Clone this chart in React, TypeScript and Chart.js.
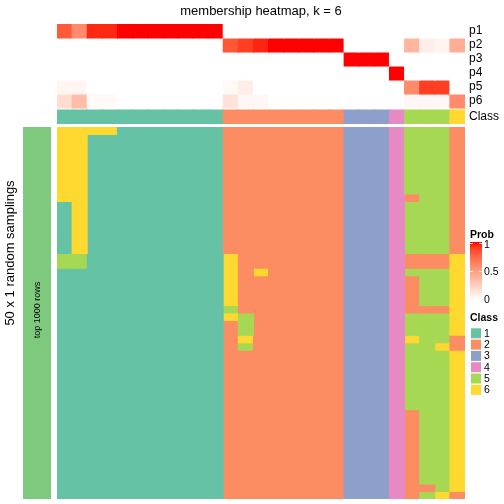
import React, { useEffect, useRef } from "react";
import { Chart, registerables } from "chart.js";

Chart.register(...registerables);

// ---------------- data ----------------
const TITLE = "membership heatmap, k = 6";
const ROW_TITLE = "50 x 1 random samplings";
const ROW_GROUP = "top 1000 rows";

const COLUMNS = [
  "c01", "c02", "c03", "c04", "c05", "c06", "c07", "c08", "c09", "c10", "c11",
  "c12", "c13", "c14", "c15", "c16", "c17", "c18", "c19",
  "c20", "c21", "c22", "c23", "c24", "c25", "c26", "c27",
];

const CLASS_LABELS = ["1", "2", "3", "4", "5", "6"];
const CLASS_COLORS = ["#66C2A5", "#FC8D62", "#8DA0CB", "#E78AC3", "#A6D854", "#FFD92F"];
const ROW_GROUP_COLOR = "#7FC97F";

const PROB_ROWS = ["p1", "p2", "p3", "p4", "p5", "p6"];
const P1 = [0.8, 0.59, 0.95, 0.95, 1, 1, 1, 1, 1, 1, 1, 0, 0, 0, 0, 0, 0, 0, 0, 0, 0, 0, 0, 0, 0, 0, 0];
const P2 = [0, 0, 0, 0, 0, 0, 0, 0, 0, 0, 0, 0.82, 0.9, 0.96, 1, 1, 1, 1, 1, 0, 0, 0, 0, 0.38, 0.09, 0.06, 0.42];
const P3 = [0, 0, 0, 0, 0, 0, 0, 0, 0, 0, 0, 0, 0, 0, 0, 0, 0, 0, 0, 1, 1, 1, 0, 0, 0, 0, 0];
const P4 = [0, 0, 0, 0, 0, 0, 0, 0, 0, 0, 0, 0, 0, 0, 0, 0, 0, 0, 0, 0, 0, 0, 1, 0, 0, 0, 0];
const P5 = [0.05, 0.05, 0, 0, 0, 0, 0, 0, 0, 0, 0, 0.03, 0.09, 0, 0, 0, 0, 0, 0, 0, 0, 0, 0, 0.59, 0.9, 0.9, 0];
const P6 = [0.18, 0.35, 0.03, 0.03, 0, 0, 0, 0, 0, 0, 0, 0.15, 0.04, 0.04, 0, 0, 0, 0, 0, 0, 0, 0, 0, 0.04, 0.04, 0.04, 0.59];
const PROBS = [P1, P2, P3, P4, P5, P6];

const COLUMN_CLASS = [1, 1, 1, 1, 1, 1, 1, 1, 1, 1, 1, 2, 2, 2, 2, 2, 2, 2, 2, 3, 3, 3, 4, 5, 5, 5, 6];

const PROB_TICKS = [0, 0.5, 1];

// class of each column in each of the 50 random samplings (rows top to bottom)
const SAMPLING_CLASS = [
  [6, 6, 6, 6, 1, 1, 1, 1, 1, 1, 1, 2, 2, 2, 2, 2, 2, 2, 2, 3, 3, 3, 4, 5, 5, 5, 2],
  [6, 6, 1, 1, 1, 1, 1, 1, 1, 1, 1, 2, 2, 2, 2, 2, 2, 2, 2, 3, 3, 3, 4, 5, 5, 5, 2],
  [6, 6, 1, 1, 1, 1, 1, 1, 1, 1, 1, 2, 2, 2, 2, 2, 2, 2, 2, 3, 3, 3, 4, 5, 5, 5, 2],
  [6, 6, 1, 1, 1, 1, 1, 1, 1, 1, 1, 2, 2, 2, 2, 2, 2, 2, 2, 3, 3, 3, 4, 5, 5, 5, 2],
  [6, 6, 1, 1, 1, 1, 1, 1, 1, 1, 1, 2, 2, 2, 2, 2, 2, 2, 2, 3, 3, 3, 4, 5, 5, 5, 2],
  [6, 6, 1, 1, 1, 1, 1, 1, 1, 1, 1, 2, 2, 2, 2, 2, 2, 2, 2, 3, 3, 3, 4, 5, 5, 5, 2],
  [6, 6, 1, 1, 1, 1, 1, 1, 1, 1, 1, 2, 2, 2, 2, 2, 2, 2, 2, 3, 3, 3, 4, 5, 5, 5, 2],
  [6, 6, 1, 1, 1, 1, 1, 1, 1, 1, 1, 2, 2, 2, 2, 2, 2, 2, 2, 3, 3, 3, 4, 5, 5, 5, 2],
  [6, 6, 1, 1, 1, 1, 1, 1, 1, 1, 1, 2, 2, 2, 2, 2, 2, 2, 2, 3, 3, 3, 4, 5, 5, 5, 2],
  [6, 6, 1, 1, 1, 1, 1, 1, 1, 1, 1, 2, 2, 2, 2, 2, 2, 2, 2, 3, 3, 3, 4, 2, 5, 5, 2],
  [1, 6, 1, 1, 1, 1, 1, 1, 1, 1, 1, 2, 2, 2, 2, 2, 2, 2, 2, 3, 3, 3, 4, 5, 5, 5, 2],
  [1, 6, 1, 1, 1, 1, 1, 1, 1, 1, 1, 2, 2, 2, 2, 2, 2, 2, 2, 3, 3, 3, 4, 5, 5, 5, 2],
  [1, 6, 1, 1, 1, 1, 1, 1, 1, 1, 1, 2, 2, 2, 2, 2, 2, 2, 2, 3, 3, 3, 4, 5, 5, 5, 2],
  [1, 6, 1, 1, 1, 1, 1, 1, 1, 1, 1, 2, 2, 2, 2, 2, 2, 2, 2, 3, 3, 3, 4, 5, 5, 5, 2],
  [1, 6, 1, 1, 1, 1, 1, 1, 1, 1, 1, 2, 2, 2, 2, 2, 2, 2, 2, 3, 3, 3, 4, 5, 5, 5, 2],
  [1, 6, 1, 1, 1, 1, 1, 1, 1, 1, 1, 2, 2, 2, 2, 2, 2, 2, 2, 3, 3, 3, 4, 5, 5, 5, 2],
  [1, 6, 1, 1, 1, 1, 1, 1, 1, 1, 1, 2, 2, 2, 2, 2, 2, 2, 2, 3, 3, 3, 4, 5, 5, 5, 2],
  [5, 5, 1, 1, 1, 1, 1, 1, 1, 1, 1, 6, 2, 2, 2, 2, 2, 2, 2, 3, 3, 3, 4, 2, 2, 2, 6],
  [5, 5, 1, 1, 1, 1, 1, 1, 1, 1, 1, 6, 2, 2, 2, 2, 2, 2, 2, 3, 3, 3, 4, 2, 2, 2, 6],
  [1, 1, 1, 1, 1, 1, 1, 1, 1, 1, 1, 6, 2, 6, 2, 2, 2, 2, 2, 3, 3, 3, 4, 5, 5, 5, 6],
  [1, 1, 1, 1, 1, 1, 1, 1, 1, 1, 1, 6, 2, 2, 2, 2, 2, 2, 2, 3, 3, 3, 4, 2, 5, 5, 6],
  [1, 1, 1, 1, 1, 1, 1, 1, 1, 1, 1, 6, 2, 2, 2, 2, 2, 2, 2, 3, 3, 3, 4, 2, 5, 5, 6],
  [1, 1, 1, 1, 1, 1, 1, 1, 1, 1, 1, 6, 2, 2, 2, 2, 2, 2, 2, 3, 3, 3, 4, 2, 5, 5, 6],
  [1, 1, 1, 1, 1, 1, 1, 1, 1, 1, 1, 6, 2, 2, 2, 2, 2, 2, 2, 3, 3, 3, 4, 2, 5, 5, 6],
  [1, 1, 1, 1, 1, 1, 1, 1, 1, 1, 1, 5, 2, 2, 2, 2, 2, 2, 2, 3, 3, 3, 4, 2, 2, 2, 6],
  [1, 1, 1, 1, 1, 1, 1, 1, 1, 1, 1, 6, 5, 2, 2, 2, 2, 2, 2, 3, 3, 3, 4, 5, 5, 5, 6],
  [1, 1, 1, 1, 1, 1, 1, 1, 1, 1, 1, 2, 5, 2, 2, 2, 2, 2, 2, 3, 3, 3, 4, 5, 5, 5, 6],
  [1, 1, 1, 1, 1, 1, 1, 1, 1, 1, 1, 2, 5, 2, 2, 2, 2, 2, 2, 3, 3, 3, 4, 5, 5, 5, 6],
  [1, 1, 1, 1, 1, 1, 1, 1, 1, 1, 1, 2, 6, 2, 2, 2, 2, 2, 2, 3, 3, 3, 4, 6, 5, 5, 2],
  [1, 1, 1, 1, 1, 1, 1, 1, 1, 1, 1, 2, 5, 2, 2, 2, 2, 2, 2, 3, 3, 3, 4, 5, 5, 6, 2],
  [1, 1, 1, 1, 1, 1, 1, 1, 1, 1, 1, 2, 2, 2, 2, 2, 2, 2, 2, 3, 3, 3, 4, 5, 5, 5, 6],
  [1, 1, 1, 1, 1, 1, 1, 1, 1, 1, 1, 2, 2, 2, 2, 2, 2, 2, 2, 3, 3, 3, 4, 5, 5, 5, 6],
  [1, 1, 1, 1, 1, 1, 1, 1, 1, 1, 1, 2, 2, 2, 2, 2, 2, 2, 2, 3, 3, 3, 4, 5, 5, 5, 6],
  [1, 1, 1, 1, 1, 1, 1, 1, 1, 1, 1, 2, 2, 2, 2, 2, 2, 2, 2, 3, 3, 3, 4, 5, 5, 5, 6],
  [1, 1, 1, 1, 1, 1, 1, 1, 1, 1, 1, 2, 2, 2, 2, 2, 2, 2, 2, 3, 3, 3, 4, 5, 5, 5, 6],
  [1, 1, 1, 1, 1, 1, 1, 1, 1, 1, 1, 2, 2, 2, 2, 2, 2, 2, 2, 3, 3, 3, 4, 5, 5, 5, 6],
  [1, 1, 1, 1, 1, 1, 1, 1, 1, 1, 1, 2, 2, 2, 2, 2, 2, 2, 2, 3, 3, 3, 4, 5, 5, 5, 6],
  [1, 1, 1, 1, 1, 1, 1, 1, 1, 1, 1, 2, 2, 2, 2, 2, 2, 2, 2, 3, 3, 3, 4, 5, 5, 5, 6],
  [1, 1, 1, 1, 1, 1, 1, 1, 1, 1, 1, 2, 2, 2, 2, 2, 2, 2, 2, 3, 3, 3, 4, 2, 5, 5, 6],
  [1, 1, 1, 1, 1, 1, 1, 1, 1, 1, 1, 2, 2, 2, 2, 2, 2, 2, 2, 3, 3, 3, 4, 2, 5, 5, 6],
  [1, 1, 1, 1, 1, 1, 1, 1, 1, 1, 1, 2, 2, 2, 2, 2, 2, 2, 2, 3, 3, 3, 4, 2, 5, 5, 6],
  [1, 1, 1, 1, 1, 1, 1, 1, 1, 1, 1, 2, 2, 2, 2, 2, 2, 2, 2, 3, 3, 3, 4, 2, 5, 5, 6],
  [1, 1, 1, 1, 1, 1, 1, 1, 1, 1, 1, 2, 2, 2, 2, 2, 2, 2, 2, 3, 3, 3, 4, 2, 5, 5, 6],
  [1, 1, 1, 1, 1, 1, 1, 1, 1, 1, 1, 2, 2, 2, 2, 2, 2, 2, 2, 3, 3, 3, 4, 2, 5, 5, 6],
  [1, 1, 1, 1, 1, 1, 1, 1, 1, 1, 1, 2, 2, 2, 2, 2, 2, 2, 2, 3, 3, 3, 4, 2, 5, 5, 6],
  [1, 1, 1, 1, 1, 1, 1, 1, 1, 1, 1, 2, 2, 2, 2, 2, 2, 2, 2, 3, 3, 3, 4, 2, 5, 5, 6],
  [1, 1, 1, 1, 1, 1, 1, 1, 1, 1, 1, 2, 2, 2, 2, 2, 2, 2, 2, 3, 3, 3, 4, 2, 5, 5, 6],
  [1, 1, 1, 1, 1, 1, 1, 1, 1, 1, 1, 2, 2, 2, 2, 2, 2, 2, 2, 3, 3, 3, 4, 2, 5, 5, 6],
  [1, 1, 1, 1, 1, 1, 1, 1, 1, 1, 1, 2, 2, 2, 2, 2, 2, 2, 2, 3, 3, 3, 4, 2, 2, 5, 6],
  [1, 1, 1, 1, 1, 1, 1, 1, 1, 1, 1, 2, 2, 2, 2, 2, 2, 2, 2, 3, 3, 3, 4, 2, 5, 6, 2],
];

// ---------------- helpers ----------------
const FONT = '"Liberation Sans", Arial, Helvetica, sans-serif';

function toLinear(c: number) {
  c /= 255;
  return c <= 0.04045 ? c / 12.92 : Math.pow((c + 0.055) / 1.055, 2.4);
}
function toSrgb(c: number) {
  c = c <= 0.0031308 ? 12.92 * c : 1.055 * Math.pow(c, 1 / 2.4) - 0.055;
  return Math.round(Math.min(1, Math.max(0, c)) * 255);
}
function rgbToLab(r: number, g: number, b: number) {
  const R = toLinear(r), G = toLinear(g), B = toLinear(b);
  const X = (0.4124 * R + 0.3576 * G + 0.1805 * B) / 0.95047;
  const Y = 0.2126 * R + 0.7152 * G + 0.0722 * B;
  const Z = (0.0193 * R + 0.1192 * G + 0.9505 * B) / 1.08883;
  const f = (t: number) => (t > 0.008856 ? Math.cbrt(t) : 7.787 * t + 16 / 116);
  const fx = f(X), fy = f(Y), fz = f(Z);
  return [116 * fy - 16, 500 * (fx - fy), 200 * (fy - fz)];
}
function labToRgb(L: number, a: number, b: number) {
  const fy = (L + 16) / 116, fx = fy + a / 500, fz = fy - b / 200;
  const finv = (t: number) => (t * t * t > 0.008856 ? t * t * t : (t - 16 / 116) / 7.787);
  const X = finv(fx) * 0.95047, Y = finv(fy), Z = finv(fz) * 1.08883;
  const R = 3.2406 * X - 1.5372 * Y - 0.4986 * Z;
  const G = -0.9689 * X + 1.8758 * Y + 0.0415 * Z;
  const B = 0.0557 * X - 0.204 * Y + 1.057 * Z;
  return `rgb(${toSrgb(R)},${toSrgb(G)},${toSrgb(B)})`;
}
const LAB_LOW = rgbToLab(255, 255, 255);
const LAB_HIGH = rgbToLab(255, 0, 0);
function probColor(p: number) {
  const t = Math.min(1, Math.max(0, p));
  return labToRgb(
    LAB_LOW[0] + (LAB_HIGH[0] - LAB_LOW[0]) * t,
    LAB_LOW[1] + (LAB_HIGH[1] - LAB_LOW[1]) * t,
    LAB_LOW[2] + (LAB_HIGH[2] - LAB_LOW[2]) * t
  );
}

const BAR_OPTS = {
  barPercentage: 1,
  categoryPercentage: 1,
  grouped: false,
  borderWidth: 0,
  inflateAmount: 0.5,
};

const CLASS_ROW_GAP = 0.14;

function buildTopDatasets() {
  const ds: any[] = PROBS.map((vals, i) => ({
    label: PROB_ROWS[i],
    data: COLUMNS.map(() => [i, i + 1]),
    backgroundColor: vals.map(probColor),
    ...BAR_OPTS,
  }));
  const y0 = PROBS.length + CLASS_ROW_GAP;
  ds.push({
    label: "Class",
    data: COLUMNS.map(() => [y0, y0 + 1]),
    backgroundColor: COLUMN_CLASS.map((c) => CLASS_COLORS[c - 1]),
    ...BAR_OPTS,
  });
  return ds;
}

function buildMainDatasets() {
  const nRows = SAMPLING_CLASS.length;
  const runsPerCol = COLUMNS.map((_, c) => {
    const runs: { start: number; end: number; cls: number }[] = [];
    let start = 0;
    for (let r = 1; r <= nRows; r++) {
      if (r === nRows || SAMPLING_CLASS[r][c] !== SAMPLING_CLASS[start][c]) {
        runs.push({ start, end: r, cls: SAMPLING_CLASS[start][c] });
        start = r;
      }
    }
    return runs;
  });
  const maxRuns = Math.max(...runsPerCol.map((r) => r.length));
  const ds: any[] = [];
  for (let k = 0; k < maxRuns; k++) {
    ds.push({
      label: `run${k}`,
      data: runsPerCol.map((runs) => (runs[k] ? [runs[k].start, runs[k].end] : null)),
      backgroundColor: runsPerCol.map((runs) =>
        runs[k] ? CLASS_COLORS[runs[k].cls - 1] : "rgba(0,0,0,0)"
      ),
      ...BAR_OPTS,
    });
  }
  return ds;
}

const topTextPlugin = {
  id: "topText",
  afterDraw(chart: any) {
    const { ctx, chartArea, scales } = chart;
    ctx.save();
    ctx.fillStyle = "#000";
    ctx.font = `13px ${FONT}`;
    ctx.textAlign = "center";
    ctx.textBaseline = "alphabetic";
    ctx.fillText(TITLE, (chartArea.left + chartArea.right) / 2, 15);
    ctx.font = `12px ${FONT}`;
    ctx.textAlign = "left";
    ctx.textBaseline = "middle";
    PROB_ROWS.forEach((lab, i) => {
      ctx.fillText(lab, chartArea.right + 4, scales.y.getPixelForValue(i + 0.5));
    });
    ctx.fillText(
      "Class",
      chartArea.right + 4,
      scales.y.getPixelForValue(PROB_ROWS.length + CLASS_ROW_GAP + 0.5)
    );
    ctx.restore();
  },
};

const mainTextPlugin = {
  id: "mainText",
  afterDraw(chart: any) {
    const { ctx, chartArea } = chart;
    ctx.save();
    // row group annotation bar
    ctx.fillStyle = ROW_GROUP_COLOR;
    ctx.fillRect(23, chartArea.top, 28, chartArea.bottom - chartArea.top);
    ctx.fillStyle = "#000";
    ctx.textAlign = "center";
    ctx.textBaseline = "middle";
    ctx.save();
    ctx.translate(38, 310);
    ctx.rotate(-Math.PI / 2);
    ctx.font = `9px ${FONT}`;
    ctx.fillText(ROW_GROUP, 0, 0);
    ctx.restore();
    ctx.save();
    ctx.translate(10, 253);
    ctx.rotate(-Math.PI / 2);
    ctx.font = `13px ${FONT}`;
    ctx.fillText(ROW_TITLE, 0, 0);
    ctx.restore();

    // Prob legend
    ctx.textAlign = "left";
    ctx.textBaseline = "alphabetic";
    ctx.font = `bold 10.5px ${FONT}`;
    ctx.fillText("Prob", 470, 238);
    const gTop = 242, gBot = 300, gx = 470, gw = 12;
    const grad = ctx.createLinearGradient(0, gBot, 0, gTop);
    for (let i = 0; i <= 10; i++) grad.addColorStop(i / 10, probColor(i / 10));
    ctx.fillStyle = grad;
    ctx.fillRect(gx, gTop, gw, gBot - gTop);
    ctx.strokeStyle = "#fff";
    ctx.lineWidth = 1;
    ctx.font = `10.5px ${FONT}`;
    ctx.textBaseline = "middle";
    PROB_TICKS.forEach((v) => {
      const y = Math.round(gBot - (gBot - gTop) * v) + (v === 1 ? 1.5 : v === 0 ? -0.5 : 0.5);
      ctx.beginPath();
      ctx.moveTo(gx, y);
      ctx.lineTo(gx + 3, y);
      ctx.moveTo(gx + gw - 3, y);
      ctx.lineTo(gx + gw, y);
      ctx.stroke();
      ctx.fillStyle = "#000";
      const ly = v === 1 ? 245 : v === 0 ? 300 : 272.5;
      ctx.fillText(String(v), 484, ly);
    });

    // Class legend
    ctx.textBaseline = "alphabetic";
    ctx.font = `bold 10.5px ${FONT}`;
    ctx.fillStyle = "#000";
    ctx.fillText("Class", 470, 321);
    ctx.font = `10.5px ${FONT}`;
    ctx.textBaseline = "middle";
    CLASS_LABELS.forEach((lab, i) => {
      const y = 328.3 + i * 11.3;
      ctx.fillStyle = CLASS_COLORS[i];
      ctx.fillRect(471, y, 10, 10);
      ctx.fillStyle = "#000";
      ctx.fillText(lab, 484, y + 5.5);
    });
    ctx.restore();
  },
};

export default function App() {
  const topRef = useRef<HTMLCanvasElement>(null);
  const mainRef = useRef<HTMLCanvasElement>(null);

  useEffect(() => {
    const common = {
      responsive: false,
      maintainAspectRatio: false,
      animation: false as const,
      events: [] as any[],
      plugins: { legend: { display: false }, tooltip: { enabled: false } },
    };
    const top = new Chart(topRef.current!, {
      type: "bar",
      data: { labels: COLUMNS, datasets: buildTopDatasets() },
      options: {
        ...common,
        layout: { padding: { left: 57, right: 39, top: 24, bottom: 380 } },
        scales: {
          x: { type: "category", display: false, offset: true, grid: { display: false } },
          y: {
            type: "linear",
            display: false,
            reverse: true,
            min: 0,
            max: PROBS.length + CLASS_ROW_GAP + 1,
          },
        },
      } as any,
      plugins: [topTextPlugin],
    });
    const main = new Chart(mainRef.current!, {
      type: "bar",
      data: { labels: COLUMNS, datasets: buildMainDatasets() },
      options: {
        ...common,
        layout: { padding: { left: 57, right: 39, top: 127, bottom: 5 } },
        scales: {
          x: { type: "category", display: false, offset: true, grid: { display: false } },
          y: { type: "linear", display: false, reverse: true, min: 0, max: SAMPLING_CLASS.length },
        },
      } as any,
      plugins: [mainTextPlugin],
    });
    return () => {
      top.destroy();
      main.destroy();
    };
  }, []);

  const canvasStyle: React.CSSProperties = { position: "absolute", left: 0, top: 0 };
  return (
    <div
      style={{
        position: "fixed",
        left: 0,
        top: 0,
        width: 504,
        height: 504,
        background: "#fff",
      }}
    >
      <canvas ref={mainRef} width={504} height={504} style={canvasStyle} />
      <canvas ref={topRef} width={504} height={504} style={canvasStyle} />
    </div>
  );
}
